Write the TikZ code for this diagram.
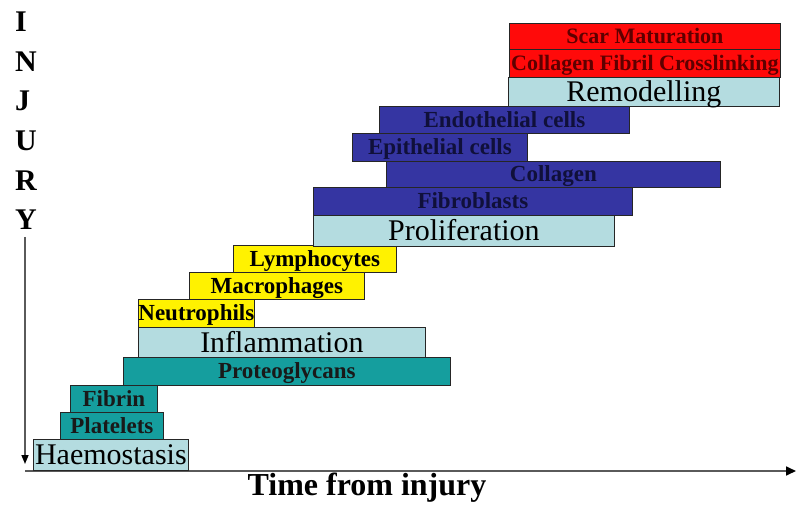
\documentclass[tikz,border=0pt]{standalone}
\usepackage{fontspec}
\setmainfont{Liberation Serif}
\usetikzlibrary{arrows.meta}

\definecolor{phaseblue}{HTML}{B4DCE0}
\definecolor{tealbox}{HTML}{159E9E}
\definecolor{navybox}{HTML}{3535A2}
\definecolor{navytext}{HTML}{10103A}
\definecolor{redbox}{HTML}{FF0A0A}
\definecolor{redtext}{HTML}{5E0000}
\definecolor{axisgray}{HTML}{5A5A5A}

\tikzset{
  box/.style={draw=black!85, line width=0.8pt, inner sep=0pt, anchor=north west, text depth=0pt},
  phase/.style={box, fill=phaseblue, text height=20pt, font=\fontsize{30}{30}\selectfont},
  tealcell/.style={box, fill=tealbox, text=black!90, text height=15pt, font=\fontsize{23}{23}\selectfont\bfseries},
  yellowcell/.style={box, fill=yellow, text=black, text height=15pt, font=\fontsize{23}{23}\selectfont\bfseries},
  navycell/.style={box, fill=navybox, text=navytext, text height=15pt, font=\fontsize{23}{23}\selectfont\bfseries},
  redcell/.style={box, fill=redbox, text=redtext, text height=14.5pt, font=\fontsize{22}{22}\selectfont\bfseries},
}

\begin{document}
\begin{tikzpicture}[x=1pt, y=-1pt]
\useasboundingbox (0,0) rectangle (796,508);

% Axes
\coordinate (ytop) at (25,237);
\coordinate (ybot) at (25,464);
\coordinate (xleft) at (25,471);
\coordinate (xright) at (796,471);
\draw[axisgray, line width=1.5pt, -{Triangle[length=9pt,width=7pt,color=black]}] (ytop) -- (ybot);
\draw[axisgray, line width=1.7pt, -{Triangle[length=10pt,width=9pt,color=black]}] (xleft) -- (xright);

% Axis labels
\foreach \l [count=\i] in {I,N,J,U,R,Y}
  \node[anchor=west, inner sep=0pt, font=\fontsize{30}{30}\selectfont\bfseries] (inj\i) at (15,22+39.6*\i-39.6) {\l};
\node[inner sep=0pt, font=\fontsize{32}{32}\selectfont\bfseries] (time) at (367,488) {Time from injury};

% Haemostasis
\node[phase, minimum width=155, minimum height=31] (haem) at (33,439) {Haemostasis};
\node[tealcell, minimum width=103, minimum height=27] (plat) at (60,412) {Platelets};
\node[tealcell, minimum width=87, minimum height=27] (fibrin) at (70,385) {Fibrin};
\node[tealcell, minimum width=327, minimum height=28] (proteo) at (123,357) {Proteoglycans};

% Inflammation
\node[phase, minimum width=287, minimum height=30] (infl) at (138,327) {Inflammation};
\node[yellowcell, minimum width=115, minimum height=28] (neutro) at (138,299) {Neutrophils};
\node[yellowcell, minimum width=175, minimum height=27] (macro) at (189,272) {Macrophages};
\node[yellowcell, minimum width=163, minimum height=27] (lympho) at (233,245) {Lymphocytes};

% Proliferation
\node[phase, minimum width=301, minimum height=31] (prolif) at (313,215) {Proliferation};
\node[navycell, minimum width=319, minimum height=28] (fibro) at (313,187) {Fibroblasts};
\node[navycell, minimum width=334, minimum height=26] (coll) at (386,161) {Collagen};
\node[navycell, minimum width=175, minimum height=28] (epith) at (352,133) {Epithelial cells};
\node[navycell, minimum width=250, minimum height=27] (endo) at (379,106) {Endothelial cells};

% Remodelling
\node[phase, minimum width=271, minimum height=29] (remod) at (508,77) {Remodelling};
\node[redcell, minimum width=271, minimum height=28] (cross) at (509,49) {Collagen Fibril Crosslinking};
\node[redcell, minimum width=271, minimum height=26] (scar) at (509,23) {Scar Maturation};

\end{tikzpicture}
\end{document}
